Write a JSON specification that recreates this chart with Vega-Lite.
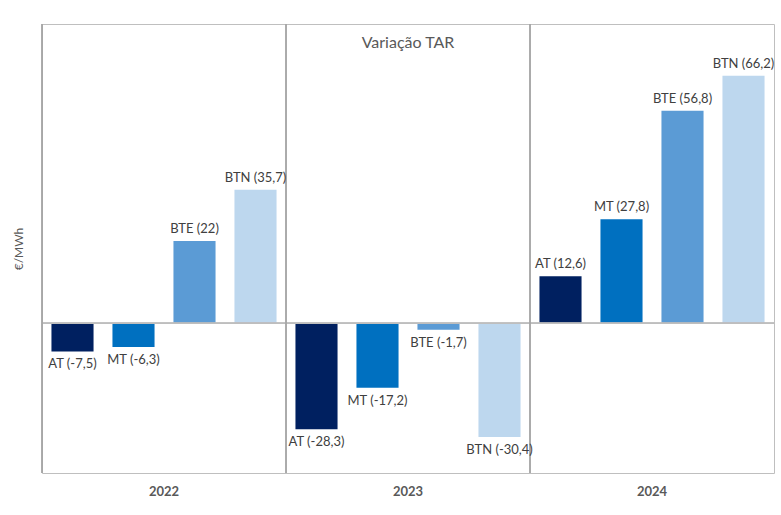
{
  "$schema": "https://vega.github.io/schema/vega-lite/v6.json",
  "padding": {"left": 12, "top": 23, "right": 7, "bottom": 5},
  "background": "white",
  "width": 732,
  "height": 449,
  "title": {"text": "Variação TAR", "fontSize": 16, "font": "Lato", "fontWeight": "normal", "color": "#595959", "offset": -43, "baseline": "bottom", "anchor": "middle"},
  "data": {"values": [
    {"year": "2022", "class": "AT", "value": -7.5, "label": "AT (-7,5)"},
    {"year": "2022", "class": "MT", "value": -6.3, "label": "MT (-6,3)"},
    {"year": "2022", "class": "BTE", "value": 22, "label": "BTE (22)"},
    {"year": "2022", "class": "BTN", "value": 35.7, "label": "BTN (35,7)"},
    {"year": "2023", "class": "AT", "value": -28.3, "label": "AT (-28,3)"},
    {"year": "2023", "class": "MT", "value": -17.2, "label": "MT (-17,2)"},
    {"year": "2023", "class": "BTE", "value": -1.7, "label": "BTE (-1,7)"},
    {"year": "2023", "class": "BTN", "value": -30.4, "label": "BTN (-30,4)"},
    {"year": "2024", "class": "AT", "value": 12.6, "label": "AT (12,6)"},
    {"year": "2024", "class": "MT", "value": 27.8, "label": "MT (27,8)"},
    {"year": "2024", "class": "BTE", "value": 56.8, "label": "BTE (56,8)"},
    {"year": "2024", "class": "BTN", "value": 66.2, "label": "BTN (66,2)"}
  ]},
  "encoding": {
    "x": {"field": "year", "type": "ordinal", "title": null,
          "scale": {"paddingInner": 0, "paddingOuter": 0},
          "axis": {"labelAngle": 0, "ticks": false, "domain": false, "grid": false, "labelFont": "Lato", "labelFontSize": 13, "labelFontWeight": "bold", "labelColor": "#595959", "labelPadding": 12}},
    "y": {"field": "value", "type": "quantitative", "scale": {"domain": [-40, 80], "nice": false},
          "axis": {"title": "€/MWh", "labels": false, "ticks": false, "domain": false, "grid": false,
                   "titleFont": "Lato", "titleFontSize": 12, "titleFontWeight": "normal", "titleColor": "#595959", "titlePadding": 17}}
  },
  "layer": [
    {
      "mark": {"type": "bar"},
      "encoding": {
        "xOffset": {"field": "class", "type": "nominal", "sort": ["AT", "MT", "BTE", "BTN"],
                    "scale": {"paddingInner": 0.31, "paddingOuter": 0.155}},
        "color": {"field": "class", "type": "nominal", "legend": null,
                  "scale": {"domain": ["AT", "MT", "BTE", "BTN"], "range": ["#002060", "#0070C0", "#5B9BD5", "#BDD7EE"]}}
      }
    },
    {
      "mark": {"type": "rule", "color": "#bfbfbf", "strokeWidth": 1},
      "encoding": {"y": {"datum": 0}, "x": null}
    },
    {
      "mark": {"type": "rule", "color": "#a6a6a6", "strokeWidth": 1},
      "encoding": {"x": {"field": "year", "type": "ordinal", "bandPosition": 0}, "y": null}
    },
    {
      "transform": [{"filter": "datum.value > 0"}],
      "mark": {"type": "text", "baseline": "bottom", "dy": -5, "font": "Lato", "fontSize": 13, "color": "#404040"},
      "encoding": {
        "xOffset": {"field": "class", "type": "nominal", "sort": ["AT", "MT", "BTE", "BTN"]},
        "text": {"field": "label"}
      }
    },
    {
      "transform": [{"filter": "datum.value < 0"}],
      "mark": {"type": "text", "baseline": "top", "dy": 7, "font": "Lato", "fontSize": 13, "color": "#404040"},
      "encoding": {
        "xOffset": {"field": "class", "type": "nominal", "sort": ["AT", "MT", "BTE", "BTN"]},
        "text": {"field": "label"}
      }
    }
  ],
  "config": {
    "view": {"stroke": "#bfbfbf", "strokeWidth": 1}
  }
}
